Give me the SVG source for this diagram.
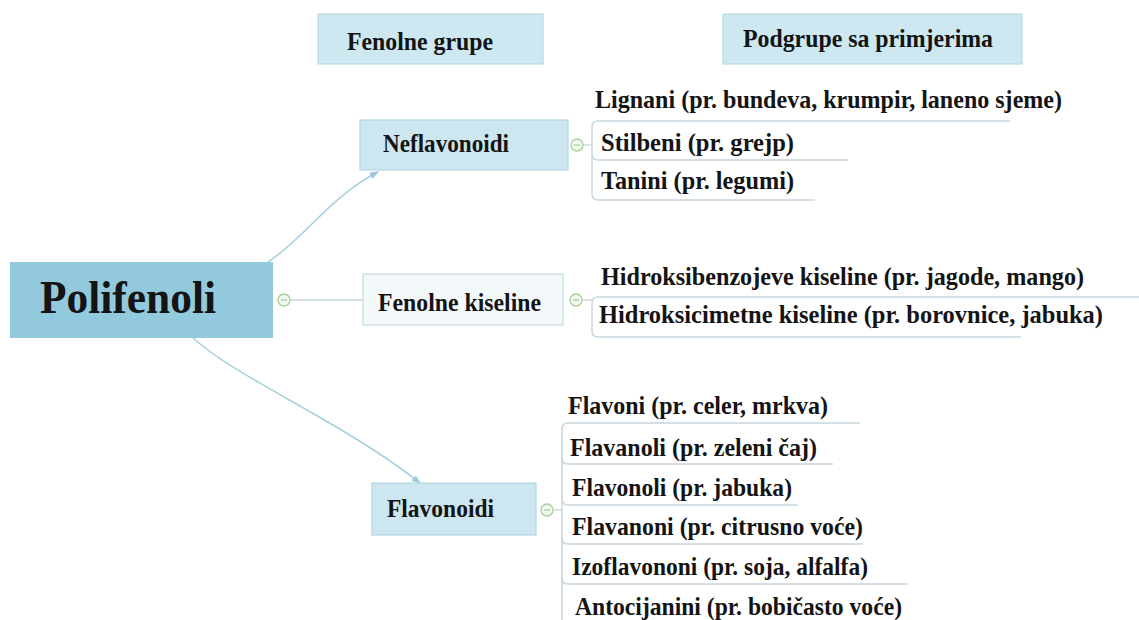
<svg xmlns="http://www.w3.org/2000/svg" width="1139" height="620" viewBox="0 0 1139 620">
<defs>
<style>
.t{font-family:"Liberation Serif","Times New Roman",serif;font-weight:bold;fill:#141414;font-size:25.5px}
.hdr{fill:#cde8f1;stroke:#b9d9e4;stroke-width:1.2}
.lb{fill:#cce7f0;stroke:#b4d5e1;stroke-width:1.2}
.wb{fill:#f3f9fb;stroke:#c9dbe3;stroke-width:1.2}
.br{fill:none;stroke:#c7d6de;stroke-width:1.5}
.arr{fill:none;stroke:#a9d0de;stroke-width:1.6}
.tog{fill:#f1f8ee;stroke:#a8cf9e;stroke-width:1.3}
.min{stroke:#a8cf9e;stroke-width:1.3}
</style>
<marker id="ah" viewBox="0 0 10 10" refX="9" refY="5" markerWidth="9" markerHeight="9" markerUnits="userSpaceOnUse" orient="auto">
<path d="M0,1 L10,5 L0,9 z" fill="#9fc9d9"/>
</marker>
</defs>
<rect width="1139" height="620" fill="#ffffff"/>

<g id="connectors">
<path class="arr" d="M 268 262 C 305 238, 328 198, 378 172" marker-end="url(#ah)"/>
<path class="arr" d="M 193 338 C 240 380, 340 420, 420 483" marker-end="url(#ah)"/>
<line x1="290" y1="300" x2="363" y2="300" stroke="#c5d6dc" stroke-width="1.5"/>
<line x1="583" y1="145" x2="592" y2="145" stroke="#c5d6dc" stroke-width="1.3"/>
<line x1="582" y1="300" x2="592" y2="300" stroke="#c5d6dc" stroke-width="1.3"/>
<line x1="553" y1="510" x2="562" y2="510" stroke="#c5d6dc" stroke-width="1.3"/>
<path class="br" d="M 1010 121 L 598 121 Q 592 121 592 127 L 592 194 Q 592 200 598 200 L 815 200"/>
<path class="br" d="M 592 154 Q 592 160 598 160 L 848 160"/>
<path class="br" d="M 1139 297 L 598 297 Q 592 297 592 303 L 592 331 Q 592 337 598 337 L 1021 337"/>
<path class="br" d="M 860 423 L 568 423 Q 562 423 562 429 L 562 620"/>
<path class="br" d="M 562 458 Q 562 464 568 464 L 833 464"/>
<path class="br" d="M 562 499 Q 562 505 568 505 L 798 505"/>
<path class="br" d="M 562 538 Q 562 544 568 544 L 863 544"/>
<path class="br" d="M 562 578 Q 562 584 568 584 L 908 584"/>
</g>

<g id="header-fenolne-grupe">
<rect class="hdr" x="318" y="14" width="225" height="50"/>
<text class="t" x="347" y="50" textLength="146" lengthAdjust="spacingAndGlyphs">Fenolne grupe</text>
</g>
<g id="header-podgrupe">
<rect class="hdr" x="723" y="14" width="299" height="50"/>
<text class="t" x="743" y="47" textLength="250" lengthAdjust="spacingAndGlyphs">Podgrupe sa primjerima</text>
</g>

<g id="polifenoli">
<rect x="10" y="262" width="263" height="76" fill="#93c9dd"/>
<text class="t" x="40" y="313" style="font-size:46px" textLength="176" lengthAdjust="spacingAndGlyphs">Polifenoli</text>
<circle class="tog" cx="284" cy="300" r="6"/>
<line class="min" x1="281" y1="300" x2="287" y2="300"/>
</g>

<g id="neflavonoidi">
<rect class="lb" x="360" y="120" width="208" height="50"/>
<text class="t" x="383" y="152" textLength="126" lengthAdjust="spacingAndGlyphs">Neflavonoidi</text>
<circle class="tog" cx="577" cy="145" r="6"/>
<line class="min" x1="574" y1="145" x2="580" y2="145"/>
</g>

<g id="fenolne-kiseline">
<rect class="wb" x="363" y="274" width="200" height="51"/>
<text class="t" x="378" y="311" textLength="163" lengthAdjust="spacingAndGlyphs">Fenolne kiseline</text>
<circle class="tog" cx="576" cy="300" r="6"/>
<line class="min" x1="573" y1="300" x2="579" y2="300"/>
</g>

<g id="flavonoidi">
<rect class="lb" x="372" y="483" width="164" height="52"/>
<text class="t" x="387" y="517" textLength="107" lengthAdjust="spacingAndGlyphs">Flavonoidi</text>
<circle class="tog" cx="547" cy="510" r="6"/>
<line class="min" x1="544" y1="510" x2="550" y2="510"/>
</g>

<g id="lignani"><text class="t" x="595" y="108" textLength="467" lengthAdjust="spacingAndGlyphs">Lignani (pr. bundeva, krumpir, laneno sjeme)</text></g>
<g id="stilbeni"><text class="t" x="601" y="151" textLength="193" lengthAdjust="spacingAndGlyphs">Stilbeni (pr. grejp)</text></g>
<g id="tanini"><text class="t" x="601" y="189" textLength="193" lengthAdjust="spacingAndGlyphs">Tanini (pr. legumi)</text></g>

<g id="hidroksibenzojeve"><text class="t" x="601" y="285" textLength="483" lengthAdjust="spacingAndGlyphs">Hidroksibenzojeve kiseline (pr. jagode, mango)</text></g>
<g id="hidroksicimetne"><text class="t" x="599" y="323" textLength="504" lengthAdjust="spacingAndGlyphs">Hidroksicimetne kiseline (pr. borovnice, jabuka)</text></g>

<g id="flavoni"><text class="t" x="568" y="414" textLength="260" lengthAdjust="spacingAndGlyphs">Flavoni (pr. celer, mrkva)</text></g>
<g id="flavanoli"><text class="t" x="570" y="456" textLength="247" lengthAdjust="spacingAndGlyphs">Flavanoli (pr. zeleni čaj)</text></g>
<g id="flavonoli"><text class="t" x="572" y="496" textLength="220" lengthAdjust="spacingAndGlyphs">Flavonoli (pr. jabuka)</text></g>
<g id="flavanoni"><text class="t" x="572" y="535" textLength="291" lengthAdjust="spacingAndGlyphs">Flavanoni (pr. citrusno voće)</text></g>
<g id="izoflavononi"><text class="t" x="572" y="575" textLength="296" lengthAdjust="spacingAndGlyphs">Izoflavononi (pr. soja, alfalfa)</text></g>
<g id="antocijanini"><text class="t" x="575" y="615" textLength="327" lengthAdjust="spacingAndGlyphs">Antocijanini (pr. bobičasto voće)</text></g>
</svg>
